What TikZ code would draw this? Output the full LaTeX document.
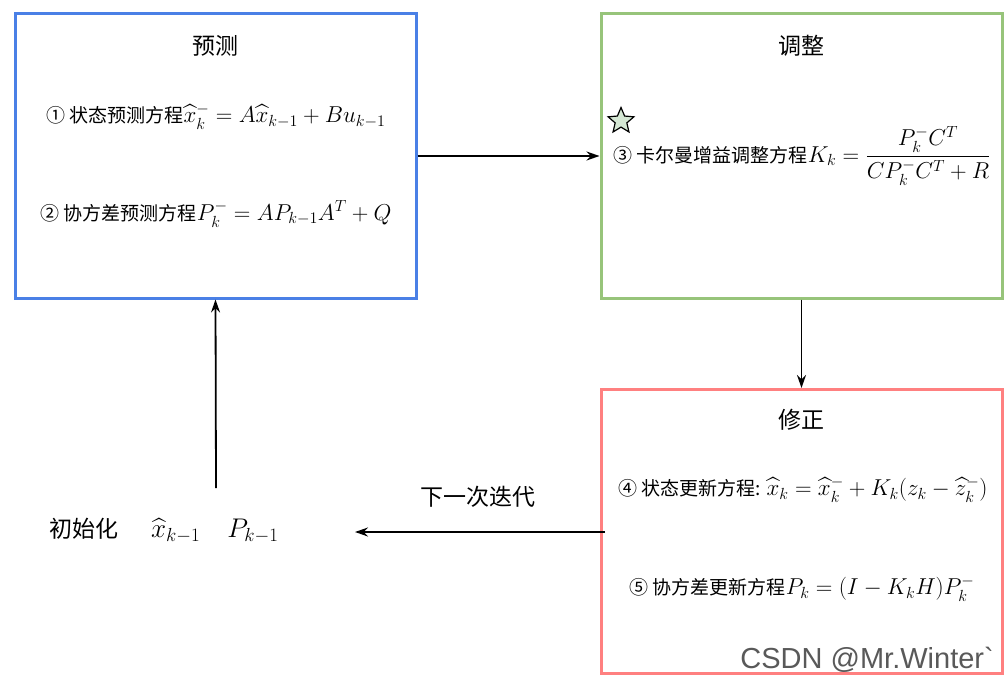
\RequirePackage{fix-cm}
\documentclass[tikz,border=0pt]{standalone}
\usepackage{amsmath}
\usepackage{fontspec}
\newfontfamily\cjk{Noto Sans CJK SC}
\newfontfamily\cjks[Scale=0.826]{Noto Sans CJK SC}
\newfontfamily\wmfont{Liberation Sans}
\usetikzlibrary{shapes.geometric,arrows.meta}
\definecolor{bblue}{RGB}{74,128,230}
\definecolor{bgreen}{RGB}{151,196,122}
\definecolor{bred}{RGB}{255,128,128}
\definecolor{sfill}{RGB}{213,232,212}
\tikzset{
  box/.style={draw, line width=3pt, minimum width=401pt, minimum height=284pt, inner sep=0pt},
  title/.style={font=\cjk\fontsize{23}{27}\selectfont, inner sep=0pt},
  eq/.style={font=\cjks\fontsize{23}{27}\selectfont, inner sep=0pt},
  conn/.style={-{Stealth[length=13pt,width=9pt]}, line width=1.8pt},
}
\newcommand{\xh}{\widehat{x}}
\newcommand{\zh}{\widehat{z}}
\begin{document}
\begin{tikzpicture}[x=1pt,y=-1pt]
\useasboundingbox (0,0) rectangle (1008,682);
\node[box, draw=bblue] (pred) at (215.5,156) {};
\node[box, draw=bgreen] (adj) at (801.5,156) {};
\node[box, draw=bred] (corr) at (801.5,531.5) {};
\node[title] (t1) at (215.5,46) {预测};
\node[title] (t2) at (801.5,46) {调整};
\node[title] (t3) at (801.5,420) {修正};
\node[eq] (e1) at (216,117) {① 状态预测方程$\xh_k^-=A\xh_{k-1}+Bu_{k-1}$};
\node[eq] (e2) at (216,214) {② 协方差预测方程$P_k^-=AP_{k-1}A^T+Q$};
\node[eq] (e3) at (802,156) {③ 卡尔曼增益调整方程$K_k=\dfrac{P_k^-C^T}{CP_k^-C^T+R}$};
\node[eq] (e4) at (803,490) {④ 状态更新方程: $\xh_k=\xh_k^-+K_k(z_k-\zh_k^-)$};
\node[eq] (e5) at (802,589) {⑤ 协方差更新方程$P_k=(I-K_kH)P_k^-$};
\node[star, star points=5, star point ratio=2.2, draw=black, fill=sfill, line width=1.2pt, minimum size=27pt, inner sep=0pt] (st) at (621,121) {};
\node[font=\fontsize{27}{31}\selectfont, inner sep=0pt, anchor=west] (init) at (49,531) {{\cjk\fontsize{23}{27}\selectfont 初始化}\hspace{33pt}$\xh_{k-1}$\hspace{27pt}$P_{k-1}$};
\coordinate (initr) at (355,532);
\coordinate (initt) at (216,488);
\coordinate (corrl) at (605,532);
\node[font=\cjk\fontsize{23}{27}\selectfont, inner sep=0pt] (nxt) at (478,497) {下一次迭代};
\node[font=\wmfont\fontsize{29}{32}\selectfont, text=black!65, inner sep=0pt, anchor=east] (wm) at (994,660) {CSDN @Mr.Winter`};
\draw[conn] (pred.east |- 0,156) -- (adj.west |- 0,156);
\draw[conn] (adj.south) -- (corr.north);
\draw[conn] (corrl) -- (initr);
\draw[conn] (initt) -- (pred.south);
\end{tikzpicture}
\end{document}
